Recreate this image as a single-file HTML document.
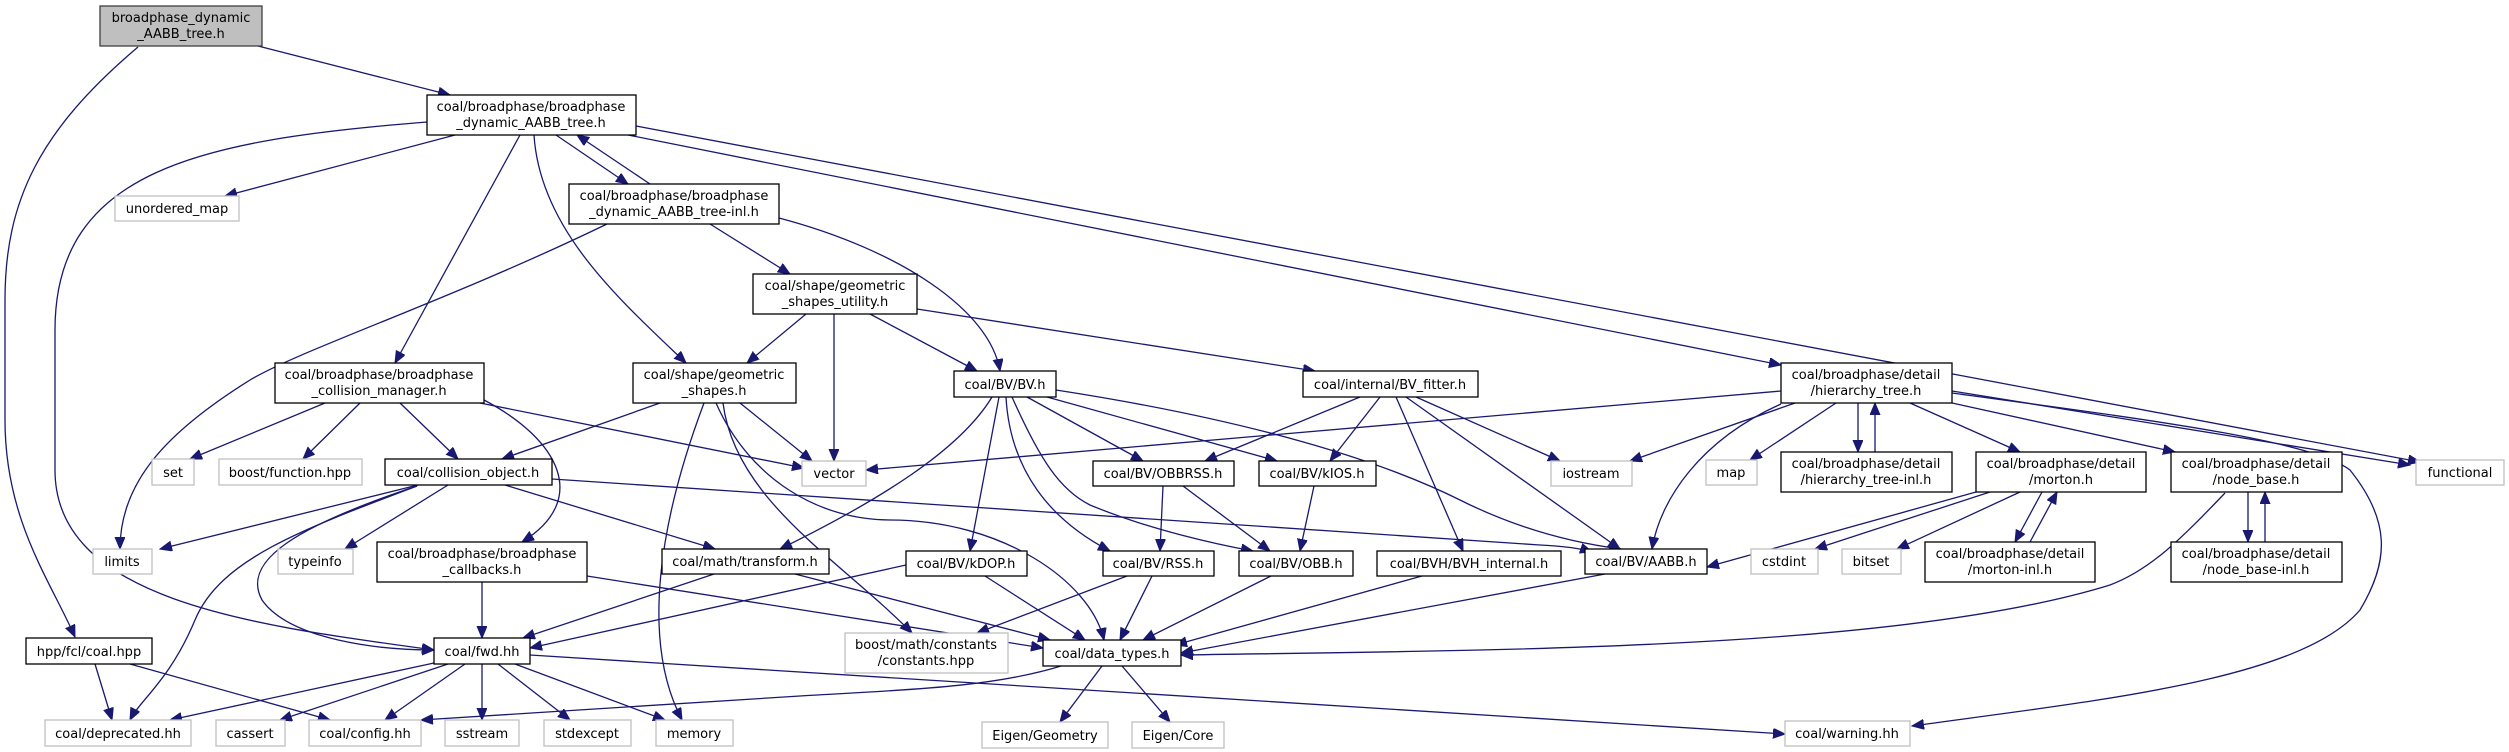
<!DOCTYPE html>
<html><head><meta charset="utf-8"><style>
html,body{margin:0;padding:0;background:#fff;}
svg{display:block;}
text{font-family:"DejaVu Sans","Liberation Sans",sans-serif;font-size:13px;fill:#000;text-anchor:middle;}
.n{fill:#fff;stroke:#000;stroke-width:1.3;}
.g{fill:#fff;stroke:#bfbfbf;stroke-width:1.3;}
.e{fill:none;stroke:#191970;stroke-width:1.3;marker-end:url(#a);}
</style></head><body>
<svg width="2509" height="752" viewBox="0 0 2509 752" xmlns="http://www.w3.org/2000/svg">
<defs><marker id="a" markerUnits="userSpaceOnUse" markerWidth="14" markerHeight="12" refX="12" refY="5" orient="auto"><path d="M0,0 L12,5 L0,10 z" fill="#191970" stroke="#191970"/></marker></defs>
<!-- edges -->
<path class="e" d="M258,46 L450,95"/>
<path class="e" d="M138,47 C40,130 5,200 5,300 L5,420 C5,520 50,580 75,637"/>
<path class="e" d="M455,135 L225,196"/>
<path class="e" d="M427,122 C200,140 55,170 55,330 L55,470 C55,600 250,625 434,650"/>
<path class="e" d="M520,135 L395,363"/>
<path class="e" d="M534,135 C540,230 620,300 686,363"/>
<path class="e" d="M556,135 L628,184"/>
<path class="e" d="M650,184 L577,135"/>
<path class="e" d="M628,135 L1781,365"/>
<path class="e" d="M636,126 L2420,462"/>
<path class="e" d="M607,224 C450,300 300,350 250,380 C170,430 120,480 120,549"/>
<path class="e" d="M710,224 L790,274"/>
<path class="e" d="M779,218 C900,250 990,310 1000,371"/>
<path class="e" d="M806,314 L747,363"/>
<path class="e" d="M834,314 L834,461"/>
<path class="e" d="M870,314 L977,371"/>
<path class="e" d="M917,309 L1315,371"/>
<path class="e" d="M325,403 L190,459"/>
<path class="e" d="M360,403 L303,459"/>
<path class="e" d="M400,403 L458,459"/>
<path class="e" d="M480,403 L804,468"/>
<path class="e" d="M484,400 C560,440 590,500 522,542"/>
<path class="e" d="M660,403 L502,459"/>
<path class="e" d="M704,403 C660,520 640,640 682,720"/>
<path class="e" d="M740,403 L812,461"/>
<path class="e" d="M723,403 C735,500 840,560 912,633"/>
<path class="e" d="M716,403 C750,480 820,520 890,520 C1000,520 1090,580 1104,640"/>
<path class="e" d="M418,485 L160,549"/>
<path class="e" d="M448,485 L345,549"/>
<path class="e" d="M417,486 C300,530 220,560 195,620 C170,680 140,700 130,720"/>
<path class="e" d="M417,486 C300,525 240,560 262,600 C290,640 380,650 434,650"/>
<path class="e" d="M505,485 L715,549"/>
<path class="e" d="M552,479 L1540,545 C1560,546 1580,548 1592,552"/>
<path class="e" d="M482,582 L482,638"/>
<path class="e" d="M587,576 L1043,648"/>
<path class="e" d="M714,574 L523,638"/>
<path class="e" d="M795,574 L1050,640"/>
<path class="e" d="M434,663 L170,720"/>
<path class="e" d="M448,664 L280,720"/>
<path class="e" d="M465,664 L385,720"/>
<path class="e" d="M482,664 L482,720"/>
<path class="e" d="M498,664 L570,720"/>
<path class="e" d="M515,664 L665,720"/>
<path class="e" d="M530,655 L1785,734"/>
<path class="e" d="M95,664 L112,720"/>
<path class="e" d="M130,664 L330,720"/>
<path class="e" d="M1061,666 C990,688 900,690 800,696 L421,720"/>
<path class="e" d="M1102,666 L1060,722"/>
<path class="e" d="M1122,666 L1170,722"/>
<path class="e" d="M1781,391 L866,470"/>
<path class="e" d="M992,397 C960,450 880,500 780,549"/>
<path class="e" d="M999,397 L970,551"/>
<path class="e" d="M1006,397 C1010,470 1050,520 1110,551"/>
<path class="e" d="M1012,397 C1040,460 1060,490 1090,505 C1150,530 1220,545 1253,551"/>
<path class="e" d="M1027,397 L1143,461"/>
<path class="e" d="M1047,397 L1277,461"/>
<path class="e" d="M1056,390 C1250,420 1380,460 1460,500 C1530,535 1590,545 1621,549"/>
<path class="e" d="M1360,397 L1205,461"/>
<path class="e" d="M1380,397 L1330,461"/>
<path class="e" d="M1416,397 L1560,461"/>
<path class="e" d="M1396,397 L1463,551"/>
<path class="e" d="M1406,397 L1620,549"/>
<path class="e" d="M1163,486 L1160,551"/>
<path class="e" d="M1183,486 L1270,551"/>
<path class="e" d="M1314,486 L1300,551"/>
<path class="e" d="M906,565 L530,648"/>
<path class="e" d="M985,576 L1085,640"/>
<path class="e" d="M1127,576 L977,633"/>
<path class="e" d="M1152,576 L1120,640"/>
<path class="e" d="M1271,576 L1143,640"/>
<path class="e" d="M1422,576 L1175,645"/>
<path class="e" d="M1605,574 L1181,653"/>
<path class="e" d="M2225,493 C2180,540 2150,570 2110,585 C1900,650 1500,650 1181,655"/>
<path class="e" d="M1976,492 L1707,567"/>
<path class="e" d="M1990,492 L1815,549"/>
<path class="e" d="M2020,492 L1897,549"/>
<path class="e" d="M2042,492 L2015,542"/>
<path class="e" d="M2030,542 L2057,492"/>
<path class="e" d="M2248,492 L2248,542"/>
<path class="e" d="M2265,542 L2265,492"/>
<path class="e" d="M1795,403 L1630,461"/>
<path class="e" d="M1836,403 L1750,460"/>
<path class="e" d="M1858,403 L1858,452"/>
<path class="e" d="M1875,452 L1875,403"/>
<path class="e" d="M1910,403 L2020,452"/>
<path class="e" d="M1952,403 L2175,452"/>
<path class="e" d="M1952,391 L2410,465"/>
<path class="e" d="M1781,404 C1700,440 1660,500 1652,549"/>
<path class="e" d="M1952,393 C2150,420 2310,440 2350,470 C2390,520 2390,560 2360,610 C2300,680 2100,700 1912,726"/>
<!-- nodes -->
<rect x="100" y="6" width="162" height="40" fill="#bfbfbf" stroke="#404040" stroke-width="1.3"/>
<text x="181" y="22">broadphase_dynamic</text><text x="181" y="38">_AABB_tree.h</text>
<rect class="n" x="427" y="95" width="209" height="40"/><text x="531" y="111">coal/broadphase/broadphase</text><text x="531" y="127">_dynamic_AABB_tree.h</text>
<rect class="g" x="115" y="196" width="124" height="25"/><text x="177" y="213">unordered_map</text>
<rect class="n" x="569" y="184" width="210" height="40"/><text x="674" y="200">coal/broadphase/broadphase</text><text x="674" y="216">_dynamic_AABB_tree-inl.h</text>
<rect class="n" x="753" y="274" width="164" height="40"/><text x="835" y="290">coal/shape/geometric</text><text x="835" y="306">_shapes_utility.h</text>
<rect class="n" x="275" y="363" width="209" height="40"/><text x="379" y="379">coal/broadphase/broadphase</text><text x="379" y="395">_collision_manager.h</text>
<rect class="n" x="633" y="363" width="163" height="40"/><text x="714" y="379">coal/shape/geometric</text><text x="714" y="395">_shapes.h</text>
<rect class="n" x="954" y="371" width="102" height="26"/><text x="1005" y="389">coal/BV/BV.h</text>
<rect class="n" x="1303" y="371" width="175" height="26"/><text x="1390" y="389">coal/internal/BV_fitter.h</text>
<rect class="n" x="1781" y="363" width="171" height="40"/><text x="1866" y="379">coal/broadphase/detail</text><text x="1866" y="395">/hierarchy_tree.h</text>
<rect class="g" x="152" y="459" width="42" height="26"/><text x="173" y="477">set</text>
<rect class="g" x="219" y="459" width="143" height="26"/><text x="290" y="477">boost/function.hpp</text>
<rect class="n" x="385" y="459" width="167" height="26"/><text x="468" y="477">coal/collision_object.h</text>
<rect class="g" x="802" y="461" width="64" height="25"/><text x="834" y="478">vector</text>
<rect class="n" x="1093" y="461" width="141" height="25"/><text x="1163" y="478">coal/BV/OBBRSS.h</text>
<rect class="n" x="1259" y="461" width="117" height="25"/><text x="1317" y="478">coal/BV/kIOS.h</text>
<rect class="g" x="1551" y="461" width="81" height="25"/><text x="1591" y="478">iostream</text>
<rect class="g" x="1706" y="460" width="51" height="25"/><text x="1731" y="477">map</text>
<rect class="n" x="1781" y="452" width="171" height="40"/><text x="1866" y="468">coal/broadphase/detail</text><text x="1866" y="484">/hierarchy_tree-inl.h</text>
<rect class="n" x="1976" y="452" width="170" height="40"/><text x="2061" y="468">coal/broadphase/detail</text><text x="2061" y="484">/morton.h</text>
<rect class="n" x="2171" y="452" width="171" height="40"/><text x="2256" y="468">coal/broadphase/detail</text><text x="2256" y="484">/node_base.h</text>
<rect class="g" x="2416" y="460" width="88" height="25"/><text x="2460" y="477">functional</text>
<rect class="g" x="93" y="549" width="59" height="25"/><text x="122" y="566">limits</text>
<rect class="g" x="278" y="549" width="75" height="25"/><text x="315" y="566">typeinfo</text>
<rect class="n" x="377" y="542" width="210" height="40"/><text x="482" y="558">coal/broadphase/broadphase</text><text x="482" y="574">_callbacks.h</text>
<rect class="n" x="662" y="549" width="167" height="25"/><text x="745" y="566">coal/math/transform.h</text>
<rect class="n" x="906" y="551" width="121" height="25"/><text x="966" y="568">coal/BV/kDOP.h</text>
<rect class="n" x="1103" y="551" width="111" height="25"/><text x="1158" y="568">coal/BV/RSS.h</text>
<rect class="n" x="1239" y="551" width="114" height="25"/><text x="1296" y="568">coal/BV/OBB.h</text>
<rect class="n" x="1377" y="551" width="184" height="25"/><text x="1469" y="568">coal/BVH/BVH_internal.h</text>
<rect class="n" x="1585" y="549" width="122" height="25"/><text x="1646" y="566">coal/BV/AABB.h</text>
<rect class="g" x="1751" y="549" width="67" height="25"/><text x="1784" y="566">cstdint</text>
<rect class="g" x="1842" y="549" width="59" height="25"/><text x="1871" y="566">bitset</text>
<rect class="n" x="1925" y="542" width="170" height="40"/><text x="2010" y="558">coal/broadphase/detail</text><text x="2010" y="574">/morton-inl.h</text>
<rect class="n" x="2171" y="542" width="171" height="40"/><text x="2256" y="558">coal/broadphase/detail</text><text x="2256" y="574">/node_base-inl.h</text>
<rect class="n" x="26" y="638" width="126" height="26"/><text x="89" y="656">hpp/fcl/coal.hpp</text>
<rect class="n" x="434" y="638" width="96" height="26"/><text x="482" y="656">coal/fwd.hh</text>
<rect class="g" x="845" y="633" width="163" height="40"/><text x="926" y="649">boost/math/constants</text><text x="926" y="665">/constants.hpp</text>
<rect class="n" x="1043" y="640" width="138" height="26"/><text x="1112" y="658">coal/data_types.h</text>
<rect class="g" x="45" y="720" width="146" height="26"/><text x="118" y="738">coal/deprecated.hh</text>
<rect class="g" x="216" y="720" width="69" height="26"/><text x="250" y="738">cassert</text>
<rect class="g" x="309" y="720" width="112" height="26"/><text x="365" y="738">coal/config.hh</text>
<rect class="g" x="445" y="720" width="74" height="26"/><text x="482" y="738">sstream</text>
<rect class="g" x="544" y="720" width="87" height="26"/><text x="587" y="738">stdexcept</text>
<rect class="g" x="656" y="720" width="77" height="26"/><text x="694" y="738">memory</text>
<rect class="g" x="982" y="722" width="126" height="26"/><text x="1045" y="740">Eigen/Geometry</text>
<rect class="g" x="1132" y="722" width="92" height="26"/><text x="1178" y="740">Eigen/Core</text>
<rect class="g" x="1785" y="721" width="125" height="25"/><text x="1847" y="738">coal/warning.hh</text>
</svg>
</body></html>
